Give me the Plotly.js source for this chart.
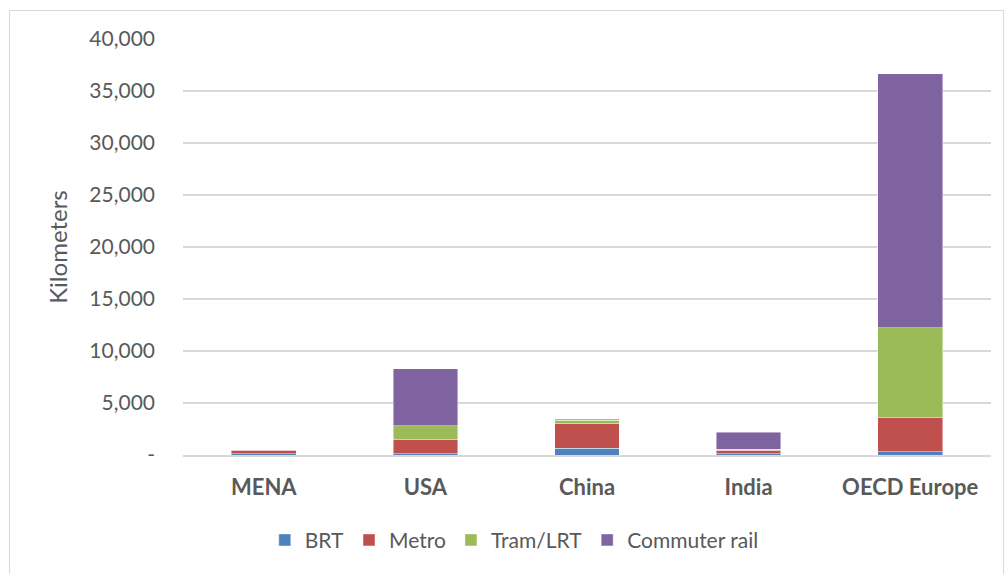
<!DOCTYPE html>
<html>
<head>
<meta charset="utf-8">
<script src="https://cdn.plot.ly/plotly-3.0.1.min.js"></script>
<style>
  html, body { margin: 0; padding: 0; background: #ffffff; }
  #wrap { position: relative; width: 1006px; height: 574px; }
  #frame { position: absolute; left: 9px; top: 10px; width: 995px; height: 570px; border: 1px solid #d9d9d9; box-sizing: border-box; }
  #chart { position: absolute; left: 0; top: 0; width: 1006px; height: 574px; }
</style>
</head>
<body>
<div id="wrap">
  <div id="frame"></div>
  <div id="chart"></div>
</div>
<script>
const categories = ["MENA", "USA", "China", "India", "OECD Europe"];
const brt      = [120, 100, 640, 130, 290];
const metro    = [330, 1380, 2410, 320, 3310];
const tram     = [50, 1350, 290, 100, 8650];
const commuter = [0, 5470, 90, 1630, 24420];
const seriesNames = ["BRT", "Metro", "Tram/LRT", "Commuter rail"];
const yTickVals = [0, 5000, 10000, 15000, 20000, 25000, 30000, 35000, 40000];
const yTickText = ["-", "5,000", "10,000", "15,000", "20,000", "25,000", "30,000", "35,000", "40,000"];

const colors = ["#4F81BD", "#C0504D", "#9BBB59", "#8064A2"];
const values = [brt, metro, tram, commuter];

const traces = values.map((v, i) => ({
  type: "bar",
  name: seriesNames[i],
  x: categories,
  y: v,
  marker: { color: colors[i], line: { color: "rgba(255,255,255,0.55)", width: 0.8 } },
  hoverinfo: "x+y+name"
}));

const font = "Lato, 'Open Sans', sans-serif";

const layout = {
  width: 1006,
  height: 574,
  barmode: "stack",
  bargap: 0.6,
  paper_bgcolor: "rgba(0,0,0,0)",
  plot_bgcolor: "rgba(0,0,0,0)",
  margin: { l: 183, r: 15, t: 39, b: 119 },
  font: { family: font, color: "#595959", size: 21 },
  showlegend: true,
  legend: {
    orientation: "h",
    x: 0.41, xanchor: "center",
    y: -0.205, yanchor: "middle",
    font: { family: font, size: 21, color: "#595959" },
    traceorder: "normal",
    itemwidth: 30
  },
  xaxis: {
    type: "category",
    showgrid: false,
    showline: true,
    linecolor: "#d9d9d9",
    linewidth: 1.5,
    ticks: "",
    tickfont: { family: font, size: 22, color: "#595959", weight: "bold" },
    ticklabelstandoff: 12
  },
  yaxis: {
    range: [0, 40000],
    tickvals: yTickVals,
    ticktext: yTickText,
    showgrid: true,
    gridcolor: "#d9d9d9",
    gridwidth: 1.5,
    zeroline: false,
    showline: false,
    ticks: "",
    tickfont: { family: font, size: 21, color: "#595959" },
    ticklabelstandoff: 27,
    title: { text: "Kilometers", font: { family: font, size: 24, color: "#595959" }, standoff: 14 }
  }
};

Plotly.newPlot("chart", traces, layout, { displayModeBar: false, staticPlot: true });
</script>
</body>
</html>
